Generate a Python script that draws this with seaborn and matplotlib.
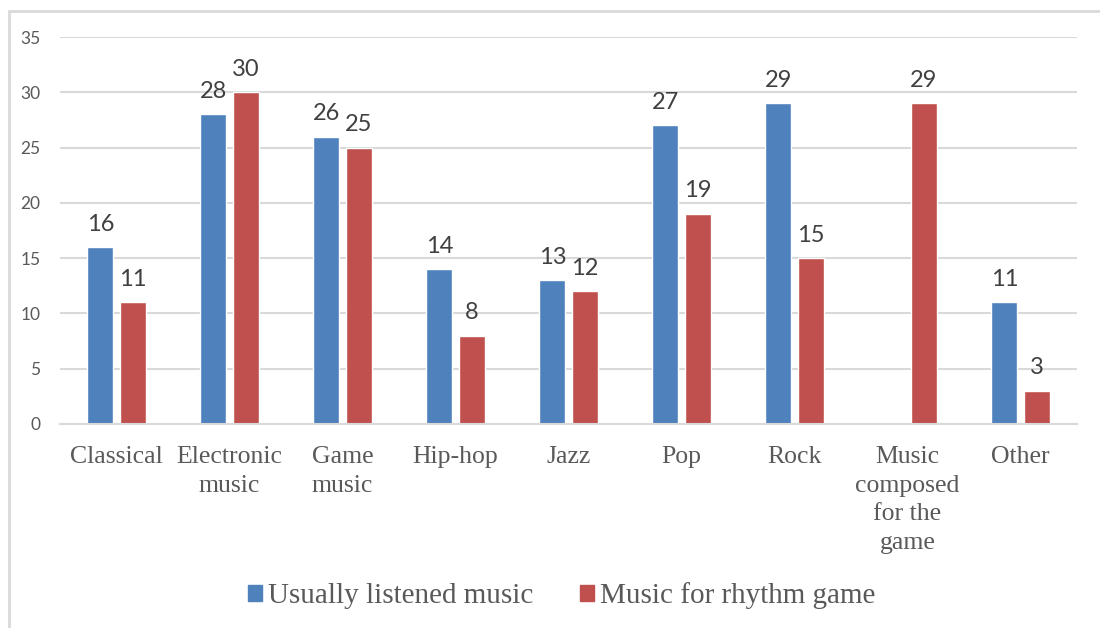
import numpy as np
import pandas as pd
import matplotlib
matplotlib.use("Agg")
import matplotlib.pyplot as plt
from matplotlib.patches import Rectangle
import seaborn as sns

# Survey results: genre preferences
categories = ["Classical", "Electronic\nmusic", "Game\nmusic", "Hip-hop", "Jazz",
              "Pop", "Rock", "Music\ncomposed\nfor the\ngame", "Other"]
usually_listened = [16, 28, 26, 14, 13, 27, 29, np.nan, 11]
rhythm_game = [11, 30, 25, 8, 12, 19, 15, 29, 3]
series_names = ["Usually listened music", "Music for rhythm game"]
y_ticks = [0, 5, 10, 15, 20, 25, 30, 35]

df = pd.DataFrame({
    "category": categories * 2,
    "value": usually_listened + rhythm_game,
    "series": [series_names[0]] * len(categories) + [series_names[1]] * len(categories),
})

sns.set_theme(style="white")
plt.rcParams["font.family"] = ["Liberation Serif", "DejaVu Sans"]

text_color = "#595959"
grid_color = "#D9D9D9"
palette = {series_names[0]: "#4F81BD", series_names[1]: "#C0504D"}

fig = plt.figure(figsize=(11, 6.28), dpi=100)
ax = fig.add_axes([60 / 1100, 1 - 424 / 628, (1077 - 60) / 1100, (424 - 37) / 628])

sns.barplot(data=df, x="category", y="value", hue="series", order=categories,
            hue_order=series_names, palette=palette, width=0.57, gap=0.19,
            saturation=1, ax=ax, legend=False)

ax.set_ylim(0, 35)
ax.set_xlim(-0.5, len(categories) - 0.5)
ax.set_yticks(y_ticks)
ax.yaxis.grid(True, color=grid_color, linewidth=1.5)
ax.set_axisbelow(True)
for side in ["top", "right", "left"]:
    ax.spines[side].set_visible(False)
ax.spines["bottom"].set_color(grid_color)
ax.spines["bottom"].set_linewidth(1.5)
ax.set_xlabel("")
ax.set_ylabel("")

ax.tick_params(axis="x", length=0, pad=16, labelsize=18.5, labelcolor=text_color)
ax.tick_params(axis="y", length=0, pad=14, labelsize=12.5, labelcolor=text_color)
for lbl in ax.get_yticklabels():
    lbl.set_fontfamily(["Lato", "DejaVu Sans"])
for lbl in ax.get_xticklabels():
    lbl.set_linespacing(1.38)

for cont in ax.containers:
    ax.bar_label(cont, fmt="%g", padding=9, fontsize=17, color="#404040",
                 family=["Lato", "DejaVu Sans"])

handles = [Rectangle((0, 0), 1, 1, color=palette[s]) for s in series_names]
fig.legend(handles, series_names, loc="center", bbox_to_anchor=(561.5 / 1100, 1 - 596 / 628),
           ncol=2, frameon=False, fontsize=21, labelcolor=text_color,
           handlelength=0.48, handleheight=0.48, handletextpad=0.2,
           columnspacing=1.6)

# Light frame around the chart area
fig.patches.append(Rectangle((9 / 1100, -0.1), 1.2, 1 - 11 / 628 + 0.1,
                             transform=fig.transFigure, fill=False,
                             edgecolor=grid_color, linewidth=2))

fig.savefig("out.png", dpi=100, facecolor="white")
